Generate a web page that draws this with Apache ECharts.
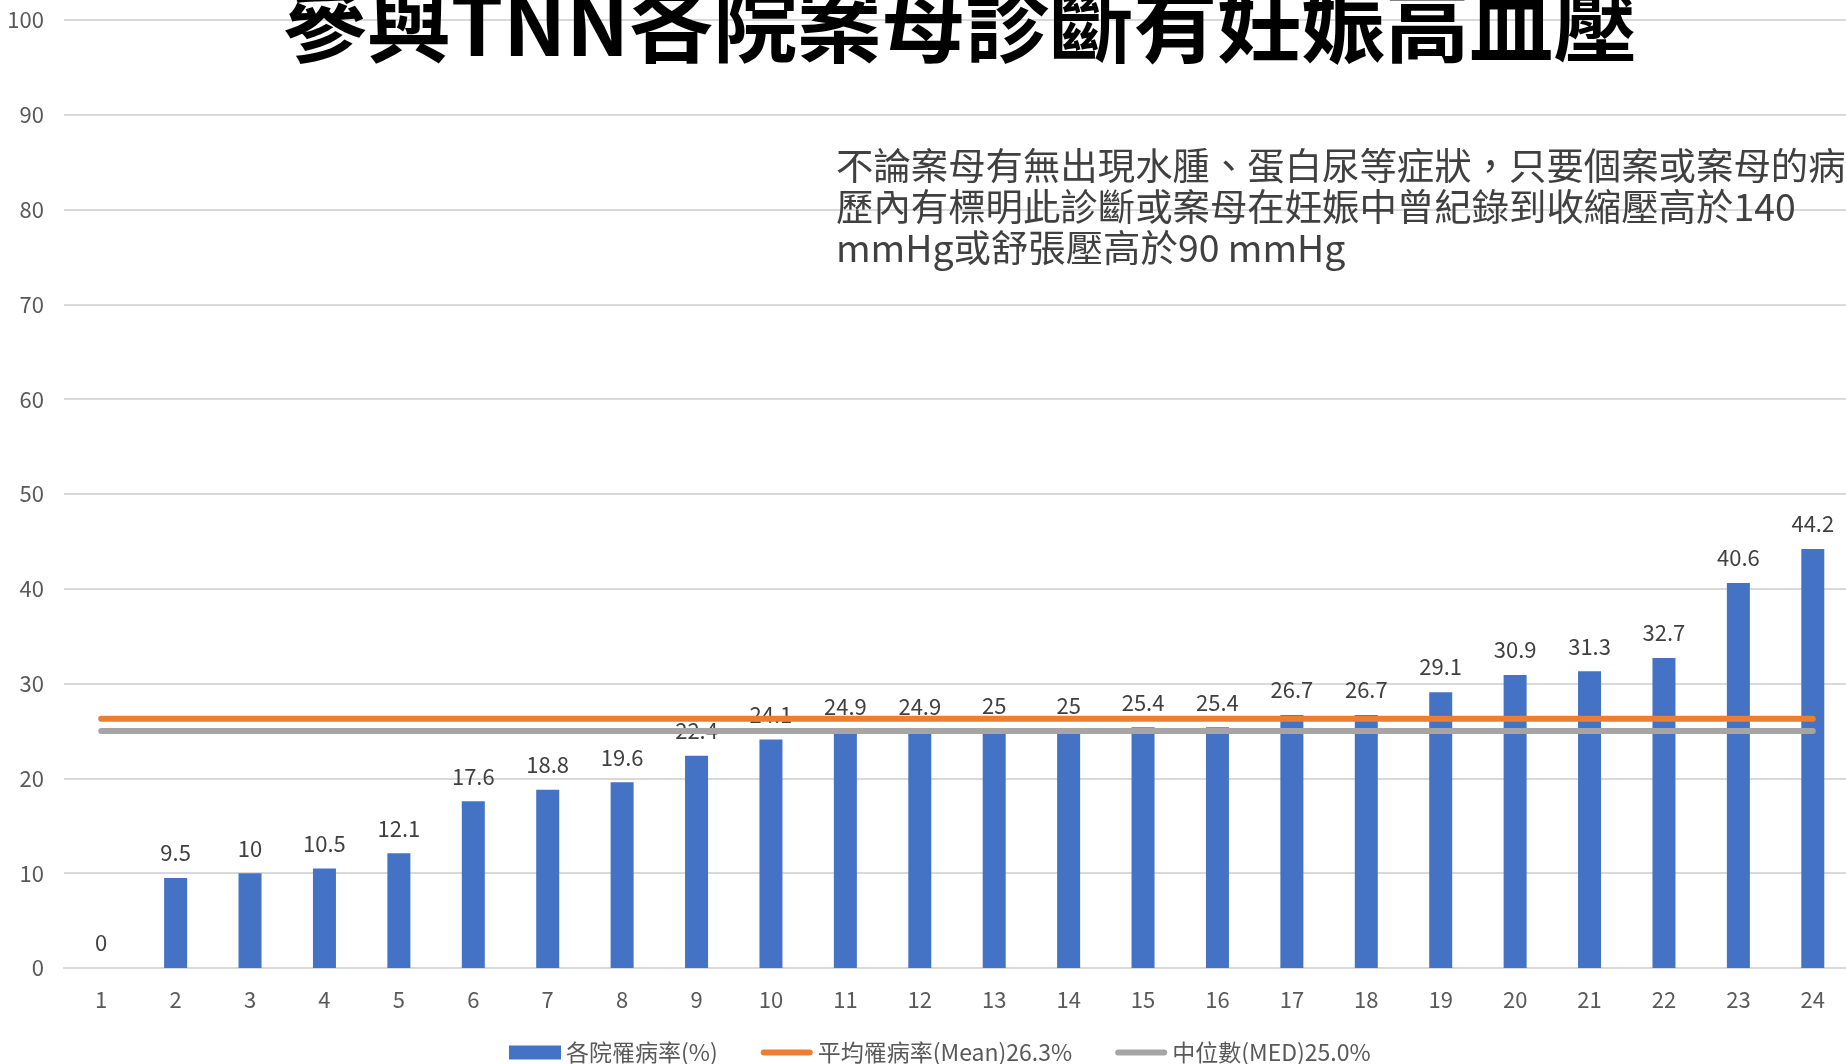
<!DOCTYPE html>
<html>
<head>
<meta charset="utf-8">
<script src="https://cdn.jsdelivr.net/npm/echarts@6/dist/echarts.min.js"></script>
<style>
  html, body { margin: 0; padding: 0; background: #fff; }
  #chart { width: 1846px; height: 1064px; }
</style>
</head>
<body>
<div id="chart"></div>
<script>
// 參與TNN各院案母診斷有妊娠高血壓 — 各院罹病率 + 平均 / 中位數

const hospitals = ['1', '2', '3', '4', '5', '6', '7', '8', '9', '10', '11', '12',
  '13', '14', '15', '16', '17', '18', '19', '20', '21', '22', '23', '24'];
const rates = [0, 9.5, 10, 10.5, 12.1, 17.6, 18.8, 19.6, 22.4, 24.1, 24.9, 24.9,
  25, 25, 25.4, 25.4, 26.7, 26.7, 29.1, 30.9, 31.3, 32.7, 40.6, 44.2];
const meanRate = 26.3;
const medianRate = 25.0;

const seriesNames = ['各院罹病率(%)', '平均罹病率(Mean)26.3%', '中位數(MED)25.0%'];
const titleText = '參與TNN各院案母診斷有妊娠高血壓';
const noteLines = [
  '不論案母有無出現水腫、蛋白尿等症狀，只要個案或案母的病',
  '歷內有標明此診斷或案母在妊娠中曾紀錄到收縮壓高於140',
  'mmHg或舒張壓高於90 mmHg'
];

const FONT = '"Noto Sans CJK TC", "Noto Sans", sans-serif';
const first = hospitals[0];
const last = hospitals[hospitals.length - 1];

// 圓頭粗線，當作折線的圖例圖示
const LINE_ICON = 'path://M3,0H49A3,3 0 0 1 49,6H3A3,3 0 0 1 3,0Z';

const chart = echarts.init(document.getElementById('chart'));

chart.setOption({
  animation: false,
  backgroundColor: '#fff',
  textStyle: { fontFamily: FONT },
  // 格線延伸到畫面右緣之外，所以關掉 outerBounds 的自動縮放
  grid: { left: 64, width: 1786, top: 20, bottom: 96, outerBoundsMode: 'none' },
  legend: {
    data: [
      { name: seriesNames[0], icon: 'rect' },
      { name: seriesNames[1], icon: LINE_ICON },
      { name: seriesNames[2], icon: LINE_ICON }
    ],
    left: 504,
    top: 1036,
    itemWidth: 52,
    itemHeight: 14,
    itemGap: 43,
    symbolKeepAspect: true,
    textStyle: { fontSize: 23, color: '#595959', fontFamily: FONT }
  },
  xAxis: {
    type: 'category',
    data: hospitals,
    axisLine: { lineStyle: { color: '#d9d9d9', width: 2 } },
    axisTick: { show: false },
    axisLabel: { fontSize: 22, color: '#595959', margin: 21 }
  },
  yAxis: {
    type: 'value',
    min: 0,
    max: 100,
    interval: 10,
    axisLine: { show: false },
    axisTick: { show: false },
    axisLabel: { fontSize: 22, color: '#595959', margin: 20 },
    splitLine: { lineStyle: { color: '#d9d9d9', width: 2 } }
  },
  series: [
    {
      name: seriesNames[0],
      type: 'bar',
      data: rates,
      barWidth: 23,
      itemStyle: { color: '#4472C4' },
      label: {
        show: true,
        position: 'top',
        distance: 14,
        fontSize: 22,
        color: '#404040'
      },
      emphasis: { disabled: true },
      z: 2
    },
    {
      name: seriesNames[1],
      type: 'line',
      data: [[first, meanRate], [last, meanRate]],
      symbol: 'none',
      lineStyle: { color: '#ED7D31', width: 6, cap: 'round' },
      itemStyle: { color: '#ED7D31' },
      emphasis: { disabled: true },
      z: 3
    },
    {
      name: seriesNames[2],
      type: 'line',
      data: [[first, medianRate], [last, medianRate]],
      symbol: 'none',
      lineStyle: { color: '#A5A5A5', width: 6, cap: 'round' },
      itemStyle: { color: '#A5A5A5' },
      emphasis: { disabled: true },
      z: 3
    }
  ],
  graphic: [
    {
      type: 'text',
      x: 960,
      y: 66,
      z: 10,
      style: {
        text: titleText,
        fontSize: 84,
        fontWeight: 'bold',
        fontFamily: FONT,
        fill: '#000',
        align: 'center',
        verticalAlign: 'bottom'
      }
    },
    {
      type: 'text',
      x: 836,
      y: 145,
      z: 10,
      style: {
        text: noteLines.join('\n'),
        fontSize: 37.4,
        lineHeight: 41,
        fontFamily: FONT,
        fill: '#404040',
        align: 'left',
        verticalAlign: 'top'
      }
    }
  ]
});
</script>
</body>
</html>
